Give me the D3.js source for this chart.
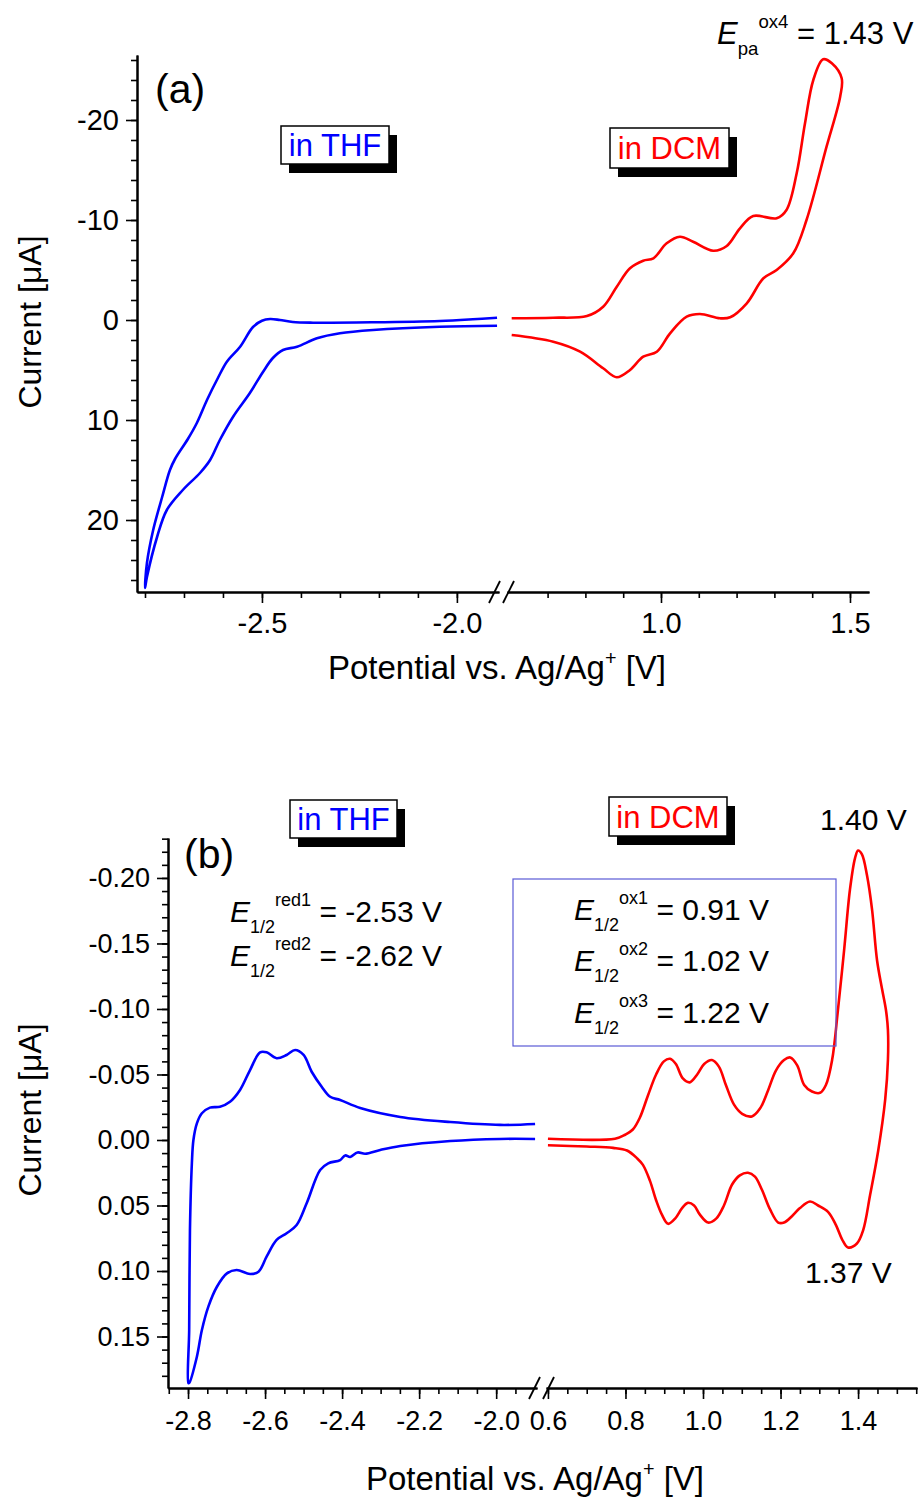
<!DOCTYPE html>
<html><head><meta charset="utf-8">
<script src="https://cdn.jsdelivr.net/npm/d3@7"></script>
<style>body{margin:0;background:#fff} svg{display:block} text{font-family:"Liberation Sans",Arial,sans-serif}</style>
</head><body><svg id="c" width="920" height="1498"></svg>
<script>
// ---------- Panel (a) data ----------
const aThfV = [-1.897,-1.959,-2.044,-2.215,-2.369,-2.421,-2.454,-2.479,-2.5,-2.523,-2.556,-2.59,-2.613,-2.641,-2.667,-2.69,-2.723,-2.736,-2.756,-2.779,-2.795,-2.8,
  -2.795,-2.769,-2.744,-2.703,-2.659,-2.633,-2.608,-2.574,-2.531,-2.497,-2.472,-2.446,-2.41,-2.359,-2.3,-2.215,-2.044,-1.897];
const aThfI = [-0.23,-0.07,0.1,0.23,0.27,0.2,0.0,-0.1,0.07,0.7,2.67,4.17,5.8,8.0,10.3,11.9,13.9,15.0,17.7,21.0,24.3,26.8,
  25.7,21.7,19.0,17.0,15.3,14.0,12.0,9.67,7.3,5.17,3.8,3.0,2.67,1.83,1.33,1.0,0.67,0.57];
const aDcmV = [0.605,0.715,0.804,0.847,0.883,0.918,0.953,0.98,1.015,1.05,1.085,1.138,1.174,1.209,1.244,1.306,1.332,1.359,1.381,1.403,1.429,1.452,1.478,
  1.474,1.438,1.385,1.35,1.306,1.271,1.227,1.183,1.156,1.103,1.068,1.024,0.989,0.953,0.918,0.883,0.847,0.786,0.715,0.605];
const aDcmI = [-0.17,-0.23,-0.4,-1.33,-3.33,-5.17,-5.93,-6.17,-7.67,-8.33,-7.83,-6.93,-7.4,-9.17,-10.4,-10.17,-11.0,-14.67,-19.67,-24,-26.07,-25.67,-24.17,
  -22.33,-17.33,-10,-6.67,-5.0,-4.17,-1.67,-0.27,-0.17,-0.6,-0.33,1.33,3.17,3.67,5.0,5.73,4.83,3.17,2.17,1.5];
const aYTicks = [-20,-10,0,10,20];
const aXTicksLeft = [-2.5,-2.0];
const aXTicksRight = [1.0,1.5];

// ---------- Panel (b) data ----------
const bThfV = [-1.899,-1.990,-2.119,-2.249,-2.353,-2.405,-2.431,-2.453,-2.479,-2.5,-2.522,-2.544,-2.570,-2.596,-2.613,-2.639,-2.665,-2.691,-2.717,-2.743,-2.764,-2.777,-2.786,-2.79,-2.795,-2.797,-2.799,
  -2.797,-2.777,-2.764,-2.747,-2.725,-2.699,-2.674,-2.639,-2.617,-2.596,-2.570,-2.544,-2.518,-2.492,-2.457,-2.436,-2.405,-2.392,-2.379,-2.36,-2.34,-2.301,-2.249,-2.119,-1.990,-1.899];
const bThfI = [-0.0122,-0.0115,-0.0137,-0.0176,-0.0244,-0.0305,-0.033,-0.0407,-0.0521,-0.0649,-0.0687,-0.0649,-0.0624,-0.0669,-0.0669,-0.0534,-0.0382,-0.0292,-0.0254,-0.0247,-0.0204,-0.0127,0.0,0.0176,0.0687,0.145,0.1855,
  0.1855,0.1654,0.145,0.127,0.112,0.1018,0.0992,0.1023,0.1005,0.0891,0.0763,0.0712,0.0649,0.0483,0.0229,0.0178,0.0153,0.0118,0.0130,0.0095,0.0105,0.0076,0.0046,0.0008,-0.0008,-0.0008];
const bDcmV = [0.600,0.773,0.799,0.819,0.837,0.858,0.879,0.899,0.915,0.930,0.948,0.966,0.985,1.003,1.023,1.041,1.059,1.080,1.101,1.126,1.147,1.168,1.188,1.209,1.225,1.243,1.261,1.281,1.302,1.317,1.333,1.348,1.364,1.379,1.392,1.400,1.410,1.423,1.436,1.449,1.462,1.472,1.477,1.477,
  1.470,1.452,1.431,1.413,1.397,1.374,1.359,1.343,1.323,1.297,1.276,1.250,1.230,1.209,1.194,1.173,1.152,1.134,1.116,1.095,1.075,1.054,1.034,1.013,0.992,0.977,0.961,0.946,0.928,0.910,0.894,0.879,0.863,0.845,0.830,0.804,0.768,0.700,0.600];
const bDcmI = [-0.001,-0.001,-0.004,-0.008,-0.017,-0.034,-0.050,-0.060,-0.062,-0.058,-0.047,-0.044,-0.050,-0.058,-0.061,-0.056,-0.042,-0.027,-0.020,-0.018,-0.024,-0.038,-0.053,-0.061,-0.063,-0.057,-0.042,-0.037,-0.036,-0.042,-0.061,-0.099,-0.145,-0.191,-0.215,-0.221,-0.218,-0.202,-0.176,-0.137,-0.115,-0.099,-0.084,-0.061,
  -0.031,0.008,0.042,0.069,0.079,0.082,0.076,0.065,0.055,0.050,0.047,0.052,0.058,0.063,0.063,0.053,0.038,0.028,0.025,0.027,0.034,0.050,0.060,0.063,0.057,0.050,0.048,0.052,0.060,0.064,0.057,0.046,0.031,0.019,0.014,0.008,0.006,0.005,0.004];
const bYTicks = [-0.20,-0.15,-0.10,-0.05,0.00,0.05,0.10,0.15];
const bXTicksLeft = [-2.8,-2.6,-2.4,-2.2,-2.0];
const bXTicksRight = [0.6,0.8,1.0,1.2,1.4];

const svg = d3.select('#c');
const zip = (V,I) => V.map((v,i)=>[v,I[i]]);
function range(a,b,s){const r=[];for(let v=a;v<=b+1e-9;v+=s)r.push(+v.toFixed(4));return r;}

function panel(p){
  const g = svg.append('g');
  const xL = d3.scaleLinear().domain(p.xLdom).range(p.xLrng);
  const xR = d3.scaleLinear().domain(p.xRdom).range(p.xRrng);
  const y = d3.scaleLinear().domain(p.ydom).range(p.yrng);
  const y0 = p.yrng[1], x0 = p.xLrng[0];
  const style = sel => { sel.select('.domain').attr('stroke','#000').attr('stroke-width',2);
    sel.selectAll('.tick line').attr('stroke','#000').attr('stroke-width',1.6);
    sel.selectAll('.tick text').attr('fill','#000').style('font-size',p.tickFs+'px').attr('font-family','"Liberation Sans",Arial,sans-serif'); };
  // y axis
  g.append('g').attr('transform',`translate(${x0},0)`)
    .call(d3.axisLeft(y).tickValues(p.yMinor).tickSize(6).tickSizeOuter(0).tickFormat('')).call(style);
  g.append('g').attr('transform',`translate(${x0},0)`)
    .call(d3.axisLeft(y).tickValues(p.yTicks).tickSize(11).tickSizeOuter(0).tickPadding(7).tickFormat(p.yFmt)).call(style);
  // x axes
  [[xL,p.xLMinor,p.xLTicks],[xR,p.xRMinor,p.xRTicks]].forEach(([sc,mn,mj])=>{
    g.append('g').attr('transform',`translate(0,${y0})`)
      .call(d3.axisBottom(sc).tickValues(mn).tickSize(6).tickSizeOuter(0).tickFormat('')).call(style);
    g.append('g').attr('transform',`translate(0,${y0})`)
      .call(d3.axisBottom(sc).tickValues(mj).tickSize(11).tickSizeOuter(0).tickPadding(p.xPad).tickFormat(d=>d.toFixed(1))).call(style);
  });
  // break marks
  p.breakX.forEach(bx=>{
    g.append('line').attr('x1',bx-5).attr('y1',y0+11).attr('x2',bx+6).attr('y2',y0-11)
      .attr('stroke','#000').attr('stroke-width',1.8);
  });
  // curves
  const lineL = d3.line().x(d=>xL(d[0])).y(d=>y(d[1])).curve(d3.curveCatmullRom.alpha(0.5));
  const lineR = d3.line().x(d=>xR(d[0])).y(d=>y(d[1])).curve(d3.curveCatmullRom.alpha(0.5));
  g.append('path').attr('d',lineL(zip(p.thfV,p.thfI))).attr('fill','none').attr('stroke','#0000ff').attr('stroke-width',2.6).attr('stroke-linejoin','round');
  g.append('path').attr('d',lineR(zip(p.dcmV,p.dcmI))).attr('fill','none').attr('stroke','#ff0000').attr('stroke-width',2.6).attr('stroke-linejoin','round');
  // titles
  const xt = g.append('text').attr('x',p.xTitle[0]).attr('y',p.xTitle[1]).attr('text-anchor','middle').style('font-size',p.xTitleFs+'px');
  xt.append('tspan').text('Potential vs. Ag/Ag');
  xt.append('tspan').attr('dy',-14).style('font-size',(p.xTitleFs*0.6)+'px').text('+');
  xt.append('tspan').attr('dy',14).text(' [V]');
  g.append('text').attr('transform',`translate(${p.yTitle[0]},${p.yTitle[1]}) rotate(-90)`).attr('text-anchor','middle')
    .style('font-size',p.yTitleFs+'px').text('Current [\u03bcA]');
  return {xL,xR,y,g};
}

function boxLabel(x,y,w,h,txt,col,fs){
  svg.append('rect').attr('x',x+8).attr('y',y+9).attr('width',w).attr('height',h).attr('fill','#000');
  svg.append('rect').attr('x',x).attr('y',y).attr('width',w).attr('height',h).attr('fill','#fff').attr('stroke','#000').attr('stroke-width',1.5);
  svg.append('text').attr('x',x+w/2).attr('y',y+h/2+fs*0.36).attr('text-anchor','middle').attr('fill',col).style('font-size',fs+'px').text(txt);
}
function eLabel(x,y,sub,sup,rest,fs){
  const t = svg.append('text').attr('x',x).attr('y',y).style('font-size',fs+'px');
  t.append('tspan').attr('font-style','italic').text('E');
  t.append('tspan').attr('dy',11).style('font-size',(fs*0.6)+'px').text(sub);
  t.append('tspan').attr('dy',-27).style('font-size',(fs*0.6)+'px').text(sup);
  t.append('tspan').attr('dy',16).text(rest);
}

// ---------- Panel (a) ----------
panel({
  xLdom:[-2.8205,-1.892], xLrng:[137,499], xRdom:[0.5926,1.5503], xRrng:[507,869],
  ydom:[-26.5,27.2], yrng:[55,592],
  yTicks:aYTicks, yMinor:range(-26,26,2), yFmt:d=>String(d),
  xLTicks:aXTicksLeft, xLMinor:range(-2.8,-2.0,0.1), xRTicks:aXTicksRight, xRMinor:range(0.7,1.5,0.1),
  breakX:[494,508], thfV:aThfV, thfI:aThfI, dcmV:aDcmV, dcmI:aDcmI,
  tickFs:29, xPad:9, xTitleFs:33, yTitleFs:32, xTitle:[497,679], yTitle:[41,322]
});
svg.append('text').attr('x',155).attr('y',103).style('font-size','41px').text('(a)');
boxLabel(281,126,108,38,'in THF','#0000ff',31);
boxLabel(610,128,119,40,'in DCM','#ff0000',31);
eLabel(717,44,'pa','ox4',' = 1.43 V',31);

// ---------- Panel (b) ----------
panel({
  xLdom:[-2.852,-1.894], xLrng:[168,537], xRdom:[0.595,1.552], xRrng:[546,917],
  ydom:[-0.2305,0.1893], yrng:[838,1388],
  yTicks:bYTicks, yMinor:range(-0.23,0.18,0.01), yFmt:d=>d.toFixed(2),
  xLTicks:bXTicksLeft, xLMinor:range(-2.85,-1.95,0.05), xRTicks:bXTicksRight, xRMinor:range(0.6,1.55,0.05),
  breakX:[534,548], thfV:bThfV, thfI:bThfI, dcmV:bDcmV, dcmI:bDcmI,
  tickFs:27, xPad:12, xTitleFs:33, yTitleFs:32, xTitle:[535,1490], yTitle:[41,1110]
});
svg.append('text').attr('x',184).attr('y',868).style('font-size','41px').text('(b)');
boxLabel(290,800,107,38,'in THF','#0000ff',31);
boxLabel(609,797,118,39,'in DCM','#ff0000',31);
eLabel(230,922,'1/2','red1',' = -2.53 V',30);
eLabel(230,966,'1/2','red2',' = -2.62 V',30);
svg.append('rect').attr('x',513).attr('y',879).attr('width',323).attr('height',167).attr('fill','none').attr('stroke','#5a5ad6').attr('stroke-width',1.2);
eLabel(574,920,'1/2','ox1',' = 0.91 V',30);
eLabel(574,971,'1/2','ox2',' = 1.02 V',30);
eLabel(574,1023,'1/2','ox3',' = 1.22 V',30);
svg.append('text').attr('x',820).attr('y',830).style('font-size','30px').text('1.40 V');
svg.append('text').attr('x',805).attr('y',1283).style('font-size','30px').text('1.37 V');
</script></body></html>
